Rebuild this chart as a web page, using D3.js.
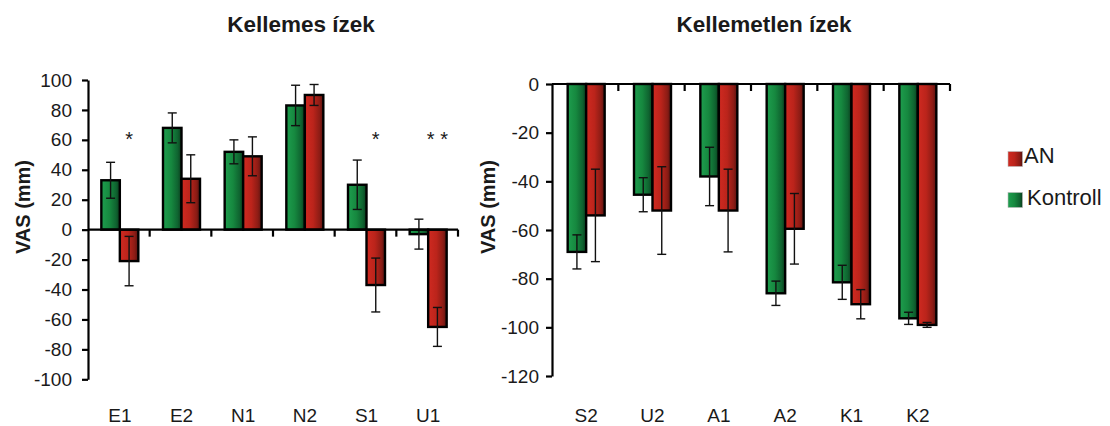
<!DOCTYPE html>
<html>
<head>
<meta charset="utf-8">
<script src="https://cdn.jsdelivr.net/npm/d3@7"></script>
<style>
  html, body { margin: 0; padding: 0; background: #fff; }
  svg { display: block; }
  text { font-family: "Liberation Sans", Arial, sans-serif; fill: #1a1a1a; }
</style>
</head>
<body>
<svg id="chart" width="1110" height="426"></svg>
<script>
// ---- data ----
const seriesNames = ["Kontroll", "AN"];

const catsLeft = ["E1", "E2", "N1", "N2", "S1", "U1"];
const kontrollLeft = [33, 68, 52, 83, 30, -3];
const kontrollErrLeft = [12, 10, 8, 13.5, 16.5, 10];
const anLeft = [-21, 34, 49, 90, -37, -65];
const anErrLeft = [16.5, 16, 13, 7, 18, 13];
const sigLeft = ["*", "", "", "", "*", "* *"];
const sigLevel = 56;
const yTicksLeft = [-100, -80, -60, -40, -20, 0, 20, 40, 60, 80, 100];

const catsRight = ["S2", "U2", "A1", "A2", "K1", "K2"];
const kontrollRight = [-69, -45.5, -38, -86, -81.5, -96.3];
const kontrollErrRight = [7, 7, 12, 5, 7, 2.5];
const anRight = [-54, -52, -52, -59.5, -90.5, -99];
const anErrRight = [19, 18, 17, 14.5, 6, 1];
const yTicksRight = [-120, -100, -80, -60, -40, -20, 0];

const titleLeft = "Kellemes ízek";
const titleRight = "Kellemetlen ízek";
const yLabel = "VAS (mm)";
const legendItems = ["AN", "Kontroll"];

// ---- drawing ----
const svg = d3.select("#chart");
const defs = svg.append("defs");
function grad(id, stops) {
  const g = defs.append("linearGradient").attr("id", id)
    .attr("x1", "0").attr("x2", "1").attr("y1", "0").attr("y2", "0");
  stops.forEach(s => g.append("stop").attr("offset", s[0]).attr("stop-color", s[1]));
}
grad("gGreen", [["0%", "#1e9e4e"], ["45%", "#16883f"], ["80%", "#0f6330"], ["100%", "#0a3b1c"]]);
grad("gRed", [["0%", "#d02a21"], ["45%", "#bb241b"], ["80%", "#8c1c15"], ["100%", "#551310"]]);
const fills = { "Kontroll": "url(#gGreen)", "AN": "url(#gRed)" };

function panel(cfg) {
  const g = svg.append("g");
  const x0 = d3.scaleBand().domain(cfg.cats).range(cfg.xRange).paddingInner(0).paddingOuter(0);
  const bw = x0.bandwidth();
  const groupW = 37;
  const x1 = d3.scaleBand().domain(seriesNames).range([(bw - groupW) / 2 + 1, (bw + groupW) / 2 + 1]);
  const y = d3.scaleLinear().domain(cfg.yDomain).range(cfg.yRange);

  const rows = cfg.cats.map((c, i) => ({
    cat: c,
    vals: [
      { s: "Kontroll", v: cfg.k[i], e: cfg.ke[i] },
      { s: "AN", v: cfg.a[i], e: cfg.ae[i] }
    ],
    sig: cfg.sig ? cfg.sig[i] : ""
  }));

  // bars
  const grp = g.selectAll("g.cat").data(rows).join("g")
    .attr("transform", d => `translate(${x0(d.cat)},0)`);
  grp.selectAll("rect").data(d => d.vals).join("rect")
    .attr("x", d => x1(d.s))
    .attr("width", x1.bandwidth())
    .attr("y", d => y(Math.max(0, d.v)))
    .attr("height", d => Math.abs(y(d.v) - y(0)))
    .attr("fill", d => fills[d.s])
    .attr("stroke", "#000").attr("stroke-width", 2.4);

  // error bars
  const eb = grp.selectAll("g.err").data(d => d.vals).join("g")
    .attr("transform", d => `translate(${x1(d.s) + x1.bandwidth() / 2},0)`)
    .attr("stroke", "#111").attr("stroke-width", 1.4);
  eb.append("line").attr("y1", d => y(d.v + d.e)).attr("y2", d => y(d.v - d.e));
  eb.append("line").attr("x1", -4.5).attr("x2", 4.5).attr("y1", d => y(d.v + d.e)).attr("y2", d => y(d.v + d.e));
  eb.append("line").attr("x1", -4.5).attr("x2", 4.5).attr("y1", d => y(d.v - d.e)).attr("y2", d => y(d.v - d.e));

  // significance
  if (cfg.sig) {
    grp.append("text")
      .attr("x", x1("AN") + x1.bandwidth() / 2)
      .attr("y", y(sigLevel))
      .attr("text-anchor", "middle")
      .attr("font-size", 20)
      .text(d => d.sig);
  }

  // y axis
  const yAxis = d3.axisLeft(y).tickValues(cfg.yTicks).tickFormat(d => String(d))
    .tickSize(6).tickPadding(cfg.tickPad).tickSizeOuter(0);
  const ya = g.append("g").attr("transform", `translate(${cfg.xRange[0]},0)`).call(yAxis);
  ya.select(".domain").attr("stroke", "#000").attr("stroke-width", 2.2);
  ya.selectAll(".tick line").attr("stroke", "#000").attr("stroke-width", 2.2);
  ya.selectAll(".tick text").attr("font-size", 19).attr("fill", "#1a1a1a")
    .attr("font-family", '"Liberation Sans", Arial, sans-serif');

  // x axis line at zero with boundary ticks
  const y0 = y(0);
  g.append("line").attr("x1", cfg.xRange[0]).attr("x2", cfg.xRange[1])
    .attr("y1", y0).attr("y2", y0).attr("stroke", "#000").attr("stroke-width", 2.2);
  g.selectAll("line.bt").data(cfg.cats).join("line")
    .attr("x1", d => x0(d) + bw).attr("x2", d => x0(d) + bw)
    .attr("y1", y0).attr("y2", y0 + 7).attr("stroke", "#000").attr("stroke-width", 2.2);

  // category labels
  g.selectAll("text.cat").data(cfg.cats).join("text")
    .attr("x", d => x0(d) + bw / 2 + 1)
    .attr("y", 422)
    .attr("text-anchor", "middle")
    .attr("font-size", 19)
    .text(d => d);

  // title
  g.append("text").attr("x", cfg.titleX).attr("y", 32).attr("text-anchor", "middle")
    .attr("font-size", 22.5).attr("font-weight", "bold").text(cfg.title);

  // y label
  g.append("text").attr("transform", `translate(${cfg.yLabelX},207) rotate(-90)`)
    .attr("text-anchor", "middle").attr("font-size", 20).attr("font-weight", "bold").text(yLabel);
}

panel({
  cats: catsLeft, k: kontrollLeft, ke: kontrollErrLeft, a: anLeft, ae: anErrLeft, sig: sigLeft,
  yDomain: [-100, 100], yRange: [379.3, 80], xRange: [88, 458], yTicks: yTicksLeft, tickPad: 10,
  title: titleLeft, titleX: 301, yLabelX: 30
});
panel({
  cats: catsRight, k: kontrollRight, ke: kontrollErrRight, a: anRight, ae: anErrRight, sig: null,
  yDomain: [-120, 0], yRange: [376, 84], xRange: [552, 950], yTicks: yTicksRight, tickPad: 7,
  title: titleRight, titleX: 764, yLabelX: 495
});

// legend
const lg = svg.append("g");
const legY = d3.scalePoint().domain(legendItems).range([159, 200]);
const lgFill = { "AN": "url(#gRed)", "Kontroll": "url(#gGreen)" };
lg.selectAll("rect").data(legendItems).join("rect")
  .attr("x", 1008).attr("y", d => legY(d) - 7.5).attr("width", 14.5).attr("height", 15)
  .attr("fill", d => lgFill[d]).attr("stroke", "#bbb").attr("stroke-width", 0.6);
lg.selectAll("text").data(legendItems).join("text")
  .attr("x", d => d === "AN" ? 1024 : 1027)
  .attr("y", d => legY(d) + 4 + (d === "AN" ? 0 : 1))
  .attr("font-size", 22)
  .text(d => d);
</script>
</body>
</html>
